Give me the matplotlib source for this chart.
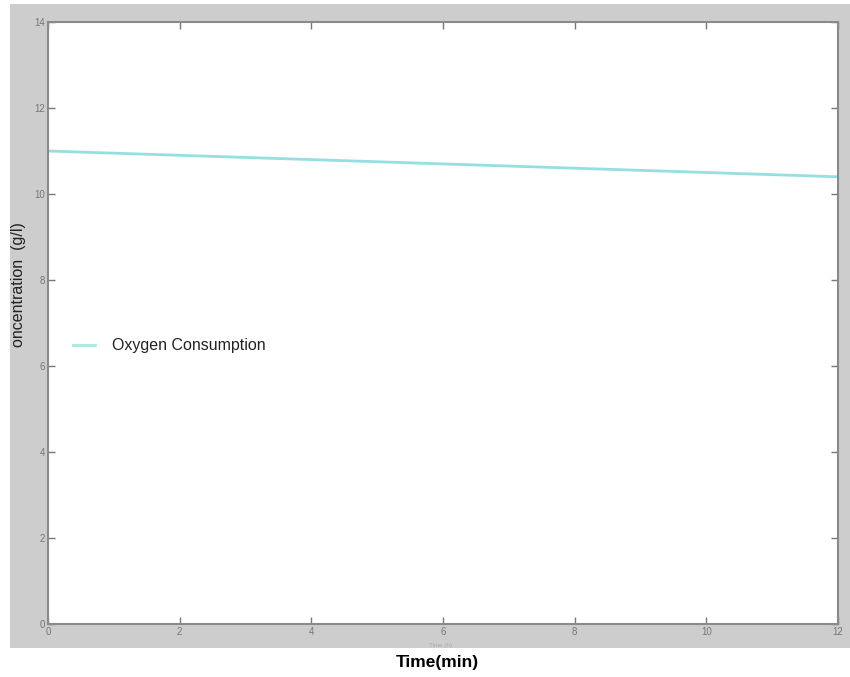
import matplotlib.pyplot as plt
from matplotlib.patches import Rectangle

plt.rcParams['font.family'] = ['Liberation Sans', 'DejaVu Sans']

# Data
time_h = [0, 2, 4, 6, 8, 10, 12]
oxygen = [11.0, 10.9, 10.8, 10.7, 10.6, 10.5, 10.4]
x_ticks = [0, 2, 4, 6, 8, 10, 12]
y_ticks = [0, 2, 4, 6, 8, 10, 12, 14]

W, H = 850, 677
fig = plt.figure(figsize=(W / 100, H / 100), dpi=100, facecolor='white')

# gray MATLAB-like figure background
bg = Rectangle((10 / W, (H - 648) / H), 1 - 10 / W, (648 - 4) / H,
               transform=fig.transFigure, facecolor='#cdcdcd',
               edgecolor='none', zorder=-10)
fig.add_artist(bg)

ax = fig.add_axes([48 / W, (H - 624) / H, (838 - 48) / W, (624 - 22) / H])
ax.set_zorder(1)
ax.set_facecolor('white')

ax.plot(time_h, oxygen, color='#95dfe0', linewidth=2, label='Oxygen Consumption')

ax.set_xlim(0, 12)
ax.set_ylim(0, 14)
ax.set_xticks(x_ticks)
ax.set_yticks(y_ticks)
ax.tick_params(direction='in', top=True, right=True, length=5, width=1,
               color='#777777', labelcolor='#777777', labelsize=7, pad=2)
for s in ax.spines.values():
    s.set_color('#8a8a8a')
    s.set_linewidth(1.5)

ax.set_ylabel('oncentration  (g/l)', fontsize=11.5, color='#222222')
ax.yaxis.set_label_coords((26 - 48) / 790, (624 - 285) / 602)

leg = ax.legend(loc='center left', bbox_to_anchor=(0.032, 0.462), frameon=False,
                fontsize=11.5, handlelength=1.35, handletextpad=1.1,
                borderaxespad=0, borderpad=0, labelcolor='#222222')
leg.get_lines()[0].set_color('#a6e8e2')

# faint original axis label under the axis
fig.text(440 / W, (H - 648) / H, 'Time (h)', fontsize=4.5, color='#aaaaaa',
         ha='center', va='bottom', zorder=2)

fig.text(437 / W, (H - 662) / H, 'Time(min)', fontsize=12.5, fontweight='bold',
         ha='center', va='center', color='black')

fig.savefig('out.png', dpi=100, facecolor='white')
